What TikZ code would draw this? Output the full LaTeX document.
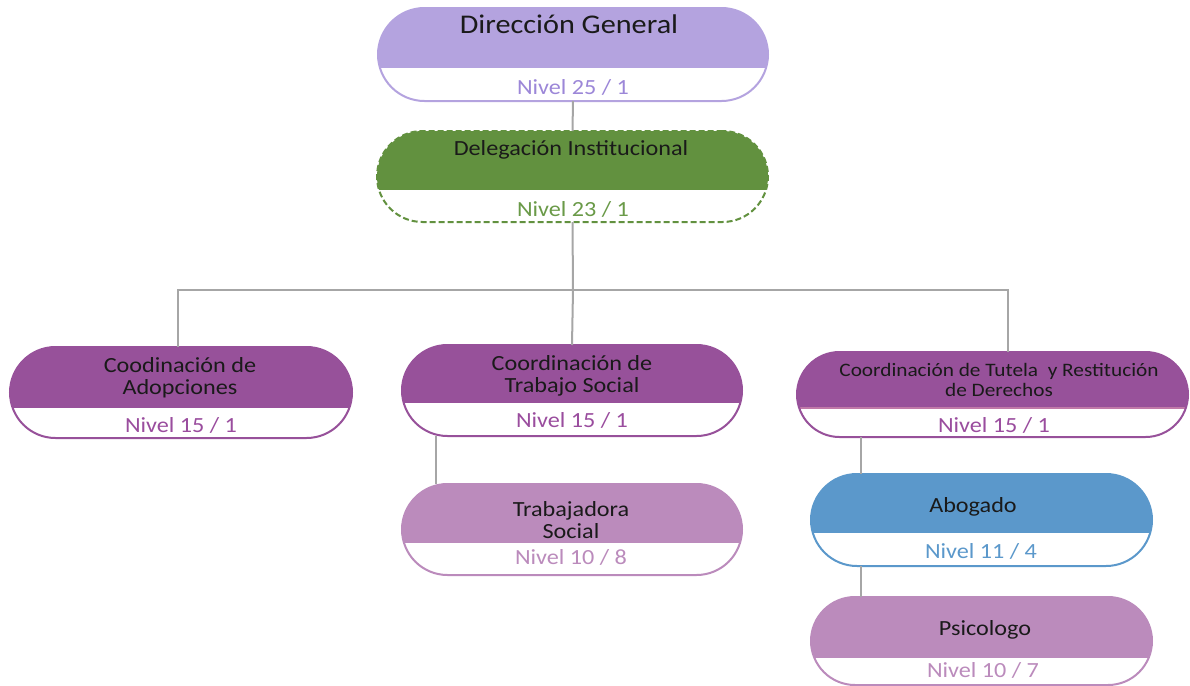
\documentclass[tikz,border=0pt]{standalone}
\usepackage{fontspec}
\setmainfont{Carlito}[FakeStretch=1.12]
\definecolor{dgcol}{HTML}{B4A3DF}
\definecolor{dgtxt}{HTML}{9C87D8}
\definecolor{delcol}{HTML}{62913F}
\definecolor{deltxt}{HTML}{6A9A48}
\definecolor{cocol}{HTML}{97519A}
\definecolor{cotxt}{HTML}{9A4D9E}
\definecolor{tucol}{HTML}{C07AA8}
\definecolor{lpcol}{HTML}{BB8BBC}
\definecolor{abcol}{HTML}{5B98CB}
\definecolor{conncol}{HTML}{A6A6A6}
\definecolor{titcol}{HTML}{1A1A1A}
\begin{document}
\begin{tikzpicture}[x=0.5pt,y=-0.5pt,
  orgbox/.style={draw=#1, line width=1pt, fill=white, inner sep=0pt, outer sep=0pt},
  topfill/.style 2 args={path picture={\fill[#1, sharp corners, solid] ([yshift=2pt]path picture bounding box.north west) rectangle ([yshift=-#2]path picture bounding box.north east);}},
  topfillline/.style n args={3}{path picture={\fill[#1, sharp corners, solid] ([yshift=2pt]path picture bounding box.north west) rectangle ([yshift=-#2]path picture bounding box.north east);
     \draw[#3, sharp corners, solid, line width=0.8pt] ([yshift=-#2]path picture bounding box.north west) -- ([yshift=-#2]path picture bounding box.north east);}},
  conn/.style={draw=conncol, line width=1pt},
  titletext/.style={text=titcol, font=\fontsize{10.8}{11}\selectfont, align=center, inner sep=0pt},
  leveltext/.style={font=\fontsize{10.8}{11}\selectfont, inner sep=0pt}
]
\useasboundingbox (0,0) rectangle (1190,686);

% Dirección General
\node[orgbox=dgcol, minimum width=195pt, minimum height=46.5pt, rounded corners=23.25pt, topfill={dgcol}{30pt}] (dg) at (573,54.5) {};
\node[titletext, font=\fontsize{13.5}{14}\selectfont] (dgt) at (569,24) {Dirección General};
\node[leveltext, text=dgtxt] (dgl) at (573,87) {Nivel 25 / 1};

% Delegación Institucional
\node[orgbox=delcol, dashed, dash pattern=on 3pt off 1.5pt, minimum width=195.5pt, minimum height=45.5pt, rounded corners=22.75pt, topfill={delcol}{29.5pt}] (del) at (572.5,176.5) {};
\node[titletext] (delt) at (571,150) {Delegación Institucional};
\node[leveltext, text=deltxt] (dell) at (573,209) {Nivel 23 / 1};

% Coodinación de Adopciones
\node[orgbox=cocol, minimum width=171pt, minimum height=45.5pt, rounded corners=22.75pt, topfill={cocol}{30.5pt}] (ado) at (181,392.5) {};
\node[titletext] (adot) at (180,378) {Coodinación de\\Adopciones};
\node[leveltext, text=cotxt] (adol) at (181,425) {Nivel 15 / 1};

% Coordinación de Trabajo Social
\node[orgbox=cocol, minimum width=170pt, minimum height=45.5pt, rounded corners=22.75pt, topfill={cocol}{29pt}] (ts) at (572,390.5) {};
\node[titletext] (tst) at (572,375.5) {Coordinación de\\Trabajo Social};
\node[leveltext, text=cotxt] (tsl) at (572,420) {Nivel 15 / 1};

% Coordinación de Tutela y Restitución de Derechos
\node[orgbox=cocol, minimum width=195.5pt, minimum height=42.5pt, rounded corners=21.25pt, topfillline={cocol}{28pt}{tucol}] (tut) at (992.5,394.5) {};
\node[titletext, font=\fontsize{9.5}{10}\selectfont] (tutt) at (999,379.5) {Coordinación de Tutela\ \ y Restitución\\de Derechos};
\node[leveltext, text=cotxt] (tutl) at (994,425) {Nivel 15 / 1};

% Trabajadora Social
\node[orgbox=lpcol, minimum width=170pt, minimum height=45.5pt, rounded corners=22.75pt, topfill={lpcol}{29.5pt}] (tra) at (572,529.5) {};
\node[titletext] (trat) at (571,520.5) {Trabajadora\\Social};
\node[leveltext, text=lpcol] (tral) at (571,557) {Nivel 10 / 8};

% Abogado
\node[orgbox=abcol, minimum width=170.5pt, minimum height=46pt, rounded corners=23pt, topfill={abcol}{29.5pt}] (abo) at (981.5,520) {};
\node[titletext] (abot) at (973,507) {Abogado};
\node[leveltext, text=abcol] (abol) at (981,551) {Nivel 11 / 4};

% Psicologo
\node[orgbox=lpcol, minimum width=170.5pt, minimum height=44pt, rounded corners=22pt, topfill={lpcol}{30.5pt}] (psi) at (981.5,641) {};
\node[titletext] (psit) at (985,630) {Psicologo};
\node[leveltext, text=lpcol] (psil) at (983,670) {Nivel 10 / 7};

% connectors
\coordinate (j) at (573,290);
\coordinate (jr) at (1008,290);
\draw[conn] (dg.south) -- (del.north);
\draw[conn] (del.south) -- (j);
\draw[conn] ([xshift=-1.5pt]ado.north) -- ([xshift=-1.5pt]ado.north |- j) -- (jr) -- (jr |- tut.north);
\draw[conn] (j) -- (ts.north);
\draw[conn] ([xshift=17pt]ts.south west) -- ([xshift=17pt]tra.north west);
\draw[conn] ([xshift=25pt]abo.north west |- tut.south) -- ([xshift=25pt]abo.north west);
\draw[conn] ([xshift=25pt]abo.south west) -- ([xshift=25pt]psi.north west);
\end{tikzpicture}
\end{document}
